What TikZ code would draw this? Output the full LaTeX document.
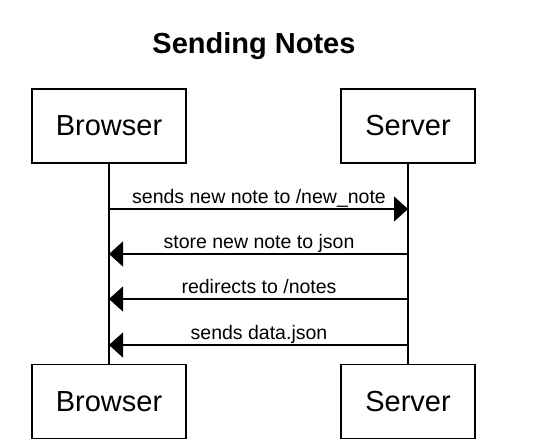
\documentclass[tikz,border=0pt]{standalone}
\usepackage{fontspec}
\setmainfont{Liberation Sans}
\usetikzlibrary{arrows.meta}

\begin{document}
\begin{tikzpicture}[x=1pt, y=-1pt, line width=1.3pt,
        actor/.style={draw, inner sep=0pt, minimum height=74pt, font=\fontsize{29}{33}\selectfont},
        msg/.style={-{Triangle[length=14pt,width=25pt]}},
        msglabel/.style={anchor=base, inner sep=0pt, font=\fontsize{19.5}{22}\selectfont}]
        \useasboundingbox (0, 0) rectangle (556, 447);

        \node[anchor=base, font=\bfseries\fontsize{29}{33}\selectfont] (title) at (254, 53) {Sending Notes};

        \node[actor, minimum width=154pt] (browserTop) at (109, 126) {Browser};
        \node[actor, minimum width=134pt] (serverTop) at (408, 126) {Server};
        \node[actor, minimum width=154pt] (browserBot) at (109, 401.5) {Browser};
        \node[actor, minimum width=134pt] (serverBot) at (408, 401.5) {Server};

        % lifelines
        \draw[-] (browserTop.south) -- (browserBot.north);
        \draw[-] (serverTop.south) -- (serverBot.north);

        \coordinate (b1) at (109, 209);
        \coordinate (s1) at (408, 209);
        \coordinate (b2) at (109, 254);
        \coordinate (s2) at (408, 254);
        \coordinate (b3) at (109, 299);
        \coordinate (s3) at (408, 299);
        \coordinate (b4) at (109, 345);
        \coordinate (s4) at (408, 345);

        \node[msglabel] (l1) at (259, 203) {sends new note to /new\_note};
        \node[msglabel] (l2) at (259, 248) {store new note to json};
        \node[msglabel] (l3) at (259, 293) {redirects to /notes};
        \node[msglabel] (l4) at (259, 339) {sends data.json};

        \draw[msg] (b1) -- (s1);
        \draw[msg] (s2) -- (b2);
        \draw[msg] (s3) -- (b3);
        \draw[msg] (s4) -- (b4);
    \end{tikzpicture}
\end{document}
